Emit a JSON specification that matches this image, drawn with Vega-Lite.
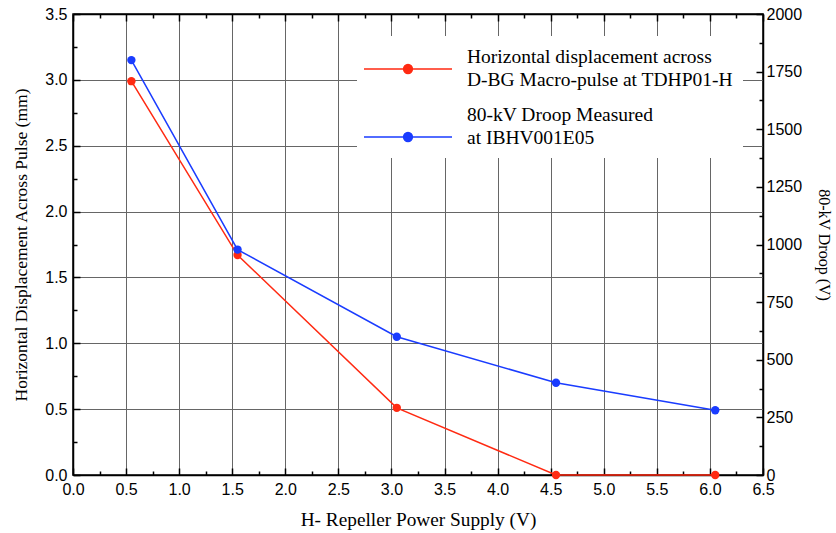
{
  "$schema": "https://vega.github.io/schema/vega-lite/v6.json",
  "width": 690,
  "height": 461,
  "autosize": {"type": "none"},
  "padding": {"left": 73, "top": 14, "right": 73, "bottom": 58},
  "background": "white",
  "config": {
    "view": {"stroke": "black", "strokeWidth": 1.5},
    "axis": {
      "labelFont": "Liberation Sans",
      "labelFontSize": 16,
      "labelColor": "black",
      "titleFont": "Liberation Serif",
      "titleFontSize": 17.5,
      "titleFontWeight": "normal",
      "titleColor": "black",
      "domainColor": "black",
      "domainWidth": 1.5,
      "tickColor": "black",
      "tickWidth": 1.5,
      "gridColor": "#666",
      "gridWidth": 1
    }
  },
  "datasets": {
    "disp": [
      {"supply": 0.55, "value": 2.99, "series": "Horizontal displacement across|D-BG Macro-pulse at TDHP01-H"},
      {"supply": 1.55, "value": 1.67, "series": "Horizontal displacement across|D-BG Macro-pulse at TDHP01-H"},
      {"supply": 3.05, "value": 0.51, "series": "Horizontal displacement across|D-BG Macro-pulse at TDHP01-H"},
      {"supply": 4.55, "value": 0.0, "series": "Horizontal displacement across|D-BG Macro-pulse at TDHP01-H"},
      {"supply": 6.05, "value": 0.0, "series": "Horizontal displacement across|D-BG Macro-pulse at TDHP01-H"}
    ],
    "droop": [
      {"supply": 0.55, "value": 1800, "series": "80-kV Droop Measured|at IBHV001E05"},
      {"supply": 1.55, "value": 978, "series": "80-kV Droop Measured|at IBHV001E05"},
      {"supply": 3.05, "value": 600, "series": "80-kV Droop Measured|at IBHV001E05"},
      {"supply": 4.55, "value": 400, "series": "80-kV Droop Measured|at IBHV001E05"},
      {"supply": 6.05, "value": 281, "series": "80-kV Droop Measured|at IBHV001E05"}
    ]
  },
  "layer": [
    {
      "data": {"name": "disp"},
      "mark": {"type": "line", "strokeWidth": 1.5, "point": {"filled": true, "size": 70, "opacity": 1}},
      "encoding": {
        "x": {
          "field": "supply", "type": "quantitative",
          "scale": {"domain": [0, 6.5], "nice": false, "zero": false},
          "axis": {
            "orient": "bottom",
            "title": "H- Repeller Power Supply (V)",
            "titleFontSize": 19.3,
            "titlePadding": 10,
            "values": [0,0.25,0.5,0.75,1,1.25,1.5,1.75,2,2.25,2.5,2.75,3,3.25,3.5,3.75,4,4.25,4.5,4.75,5,5.25,5.5,5.75,6,6.25,6.5],
            "labelExpr": "(datum.value*2) % 1 == 0 ? format(datum.value, '.1f') : ''",
            "labelPadding": 13,
            "labelFlush": false,
            "labelOverlap": false,
            "tickSize": {"condition": {"test": "(datum.value*2) % 1 != 0", "value": -4}, "value": -7},
            "gridOpacity": {"condition": {"test": "(datum.value*2) % 1 != 0", "value": 0}, "value": 1},
            "grid": true
          }
        },
        "y": {
          "field": "value", "type": "quantitative",
          "scale": {"domain": [0, 3.5], "nice": false},
          "axis": {
            "orient": "left",
            "title": "Horizontal Displacement Across Pulse (mm)",
            "titlePadding": 14,
            "values": [0,0.25,0.5,0.75,1,1.25,1.5,1.75,2,2.25,2.5,2.75,3,3.25,3.5],
            "labelExpr": "(datum.value*2) % 1 == 0 ? format(datum.value, '.1f') : ''",
            "labelPadding": 13,
            "labelFlush": false,
            "labelOverlap": false,
            "tickSize": {"condition": {"test": "(datum.value*2) % 1 != 0", "value": -4}, "value": -7},
            "gridOpacity": {"condition": {"test": "(datum.value*2) % 1 != 0", "value": 0}, "value": 1},
            "grid": true
          }
        },
        "color": {
          "field": "series", "type": "nominal",
          "scale": {
            "domain": ["Horizontal displacement across|D-BG Macro-pulse at TDHP01-H", "80-kV Droop Measured|at IBHV001E05"],
            "range": ["#ff2a12", "#1a3cff"]
          },
          "legend": {
            "orient": "none",
            "legendX": 284,
            "legendY": 22,
            "title": null,
            "fillColor": "white",
            "padding": 10,
            "labelExpr": "split(datum.label, '|')",
            "labelFont": "Liberation Serif",
            "labelFontSize": 19.5,
            "labelColor": "black",
            "labelLimit": 400,
            "labelOffset": 36,
            "symbolType": "M-2,0H2M-0.2,0a0.2,0.2 0 1,0 0.4,0a0.2,0.2 0 1,0 -0.4,0",
            "symbolSize": 1936,
            "symbolOffset": 18,
            "symbolStrokeWidth": 1.5,
            "rowPadding": 15,
            "encode": {
              "labels": {
                "update": {
                  "lineHeight": {"value": 23},
                  "dy": [{"test": "datum.index === 1", "value": -22}, {"value": -12}]
                }
              }
            }
          }
        }
      }
    },
    {
      "data": {"name": "droop"},
      "mark": {"type": "line", "strokeWidth": 1.5, "point": {"filled": true, "size": 70, "opacity": 1}},
      "encoding": {
        "x": {
          "field": "supply", "type": "quantitative",
          "axis": {
            "orient": "top",
            "title": null,
            "values": [0,0.25,0.5,0.75,1,1.25,1.5,1.75,2,2.25,2.5,2.75,3,3.25,3.5,3.75,4,4.25,4.5,4.75,5,5.25,5.5,5.75,6,6.25,6.5],
            "labels": false,
            "grid": false,
            "tickSize": {"condition": {"test": "(datum.value*2) % 1 != 0", "value": -4}, "value": -7}
          }
        },
        "y": {
          "field": "value", "type": "quantitative",
          "scale": {"domain": [0, 2000], "nice": false},
          "axis": {
            "orient": "right",
            "title": "80-kV Droop (V)",
            "titleFontSize": 16,
            "titlePadding": 14,
            "values": [0,125,250,375,500,625,750,875,1000,1125,1250,1375,1500,1625,1750,1875,2000],
            "labelExpr": "datum.value % 250 == 0 ? format(datum.value, 'd') : ''",
            "labelPadding": 10,
            "labelFlush": false,
            "labelOverlap": false,
            "grid": false,
            "tickSize": {"condition": {"test": "datum.value % 250 != 0", "value": -4}, "value": -7}
          }
        },
        "color": {"field": "series", "type": "nominal"}
      }
    }
  ],
  "resolve": {
    "scale": {"y": "independent"},
    "axis": {"x": "independent", "y": "independent"}
  }
}
